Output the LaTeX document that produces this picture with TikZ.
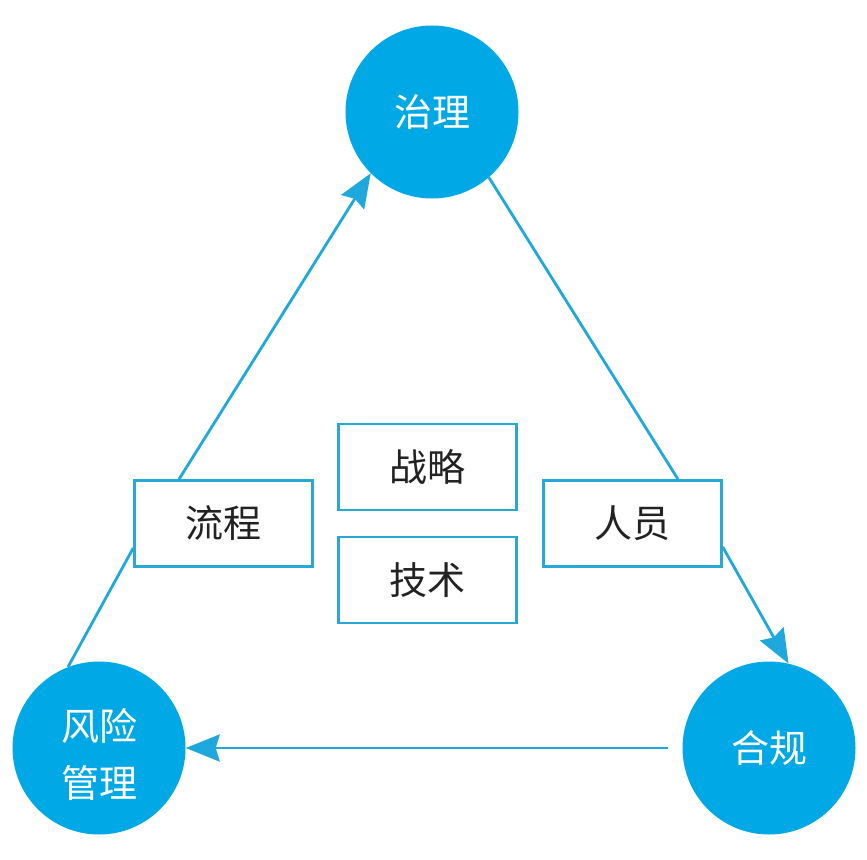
\documentclass[tikz,border=0pt]{standalone}
\usepackage{fontspec}
\newfontfamily\cjk{Noto Sans CJK SC}
\usetikzlibrary{arrows.meta}
\definecolor{cfill}{RGB}{0,169,230}
\definecolor{cline}{RGB}{30,168,220}
\definecolor{cbox}{RGB}{40,168,214}
\definecolor{ctext}{RGB}{34,34,34}
\begin{document}
\begin{tikzpicture}[x=1pt,y=-1pt,
  hub/.style={circle,fill=cfill,draw=none,minimum size=173pt,inner sep=0pt,
    text=white,font=\cjk\fontsize{38}{57}\selectfont,align=center},
  card/.style={rectangle,draw=cbox,line width=2.5pt,fill=white,minimum width=178pt,
    minimum height=86pt,inner sep=0pt,text=ctext,font=\cjk\fontsize{38}{40}\selectfont},
  link/.style={draw=cline,line width=2.8pt},
  arr/.style={link,-{Stealth[length=34pt,width=27pt,inset=4pt]}}]
\useasboundingbox (0,0) rectangle (867,859);
\node[hub] (gov) at (432,112) {治理};
\node[hub] (risk) at (99,748) {\rule{0pt}{46pt}风险\\管理};
\node[hub] (comp) at (769,748) {合规};
\node[card] (proc) at (223.5,523.5) {流程};
\node[card] (strat) at (427.5,467) {战略};
\node[card] (tech) at (427.5,580) {技术};
\node[card] (ppl) at (632.5,523.5) {人员};
\draw[arr] ([xshift=-44.5pt]proc.north) -- (gov.225);
\draw[link] (risk.111) -- ([yshift=-24.5pt]proc.west);
\draw[link] (gov.-49) -- ([xshift=45.5pt]ppl.north);
\draw[arr] ([yshift=-23.5pt]ppl.east) -- (comp.77);
\draw[arr,shorten <=14pt] (comp.west) -- (risk.east);
\end{tikzpicture}
\end{document}
